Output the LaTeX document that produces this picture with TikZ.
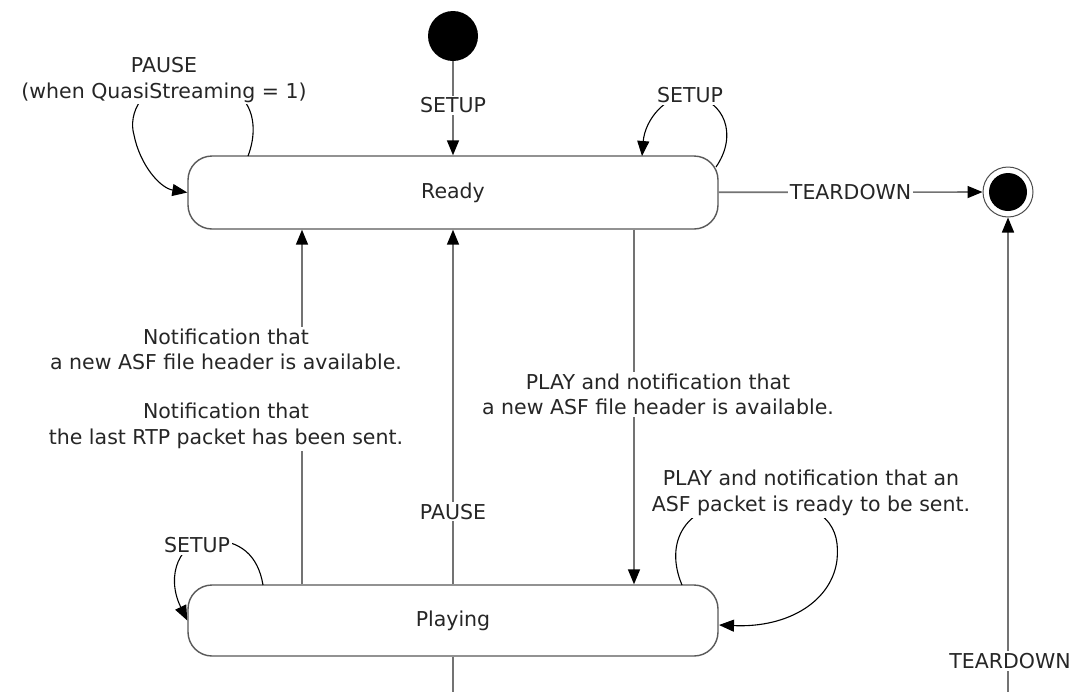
\documentclass[tikz,border=0pt]{standalone}
\usepackage{fontspec}
\setmainfont{DejaVu Sans}
\usetikzlibrary{arrows.meta}
\begin{document}
\begin{tikzpicture}[x=1pt,y=-1pt,
  tip/.tip={Triangle[length=15pt,width=12pt,color=black]},
  state/.style={draw=black!65, line width=1.4pt, rounded corners=24pt, minimum width=530pt, minimum height=73pt, fill=white, text=black!85, font=\fontsize{20.5}{25.5}\selectfont},
  conn/.style={draw=black!55, line width=1.6pt, -tip},
  plainline/.style={draw=black!55, line width=1.6pt},
  loopline/.style={draw=black, line width=1.1pt, -tip},
  lbl/.style={fill=white, text=black!85, inner sep=2pt, align=center, font=\fontsize{20.5}{25.5}\selectfont},
]
\useasboundingbox (0,0) rectangle (1076,691);
\fill[white] (0,0) rectangle (1076,691);

% states
\node[state] (ready) at (453,192.5) {Ready};
\node[state, minimum height=71pt] (playing) at (453,620.5) {Playing};
\node[circle, fill=black, minimum size=50pt, inner sep=0pt] (init) at (453,36) {};
\node[circle, draw=black!70, line width=1pt, fill=white, minimum size=50pt, inner sep=0pt] (final) at (1008,192) {};
\fill[black] (final.center) circle (19pt);

% helper coordinates
\coordinate (xa) at (302,0);
\coordinate (xb) at (634,0);
\coordinate (bot) at (453,720);

% straight transitions
\draw[conn] (init) -- node[lbl, pos=0.47] {SETUP} (ready);
\draw[conn] (ready) -- node[lbl] {TEARDOWN} (final);

\node[lbl] (n1) at (226,349.5) {Notification that\\a new ASF file header is available.};
\node[lbl] (n2) at (226,426) {Notification that\\the last RTP packet has been sent.};
\draw[plainline] (playing.north -| xa) -- (n2.south -| xa);
\draw[conn] (n1.north -| xa) -- (ready.south -| xa);

\draw[conn] (playing.north) -- node[lbl, pos=0.205] {PAUSE} (ready.south);
\draw[conn] (ready.south -| xb) -- node[lbl, pos=0.465, xshift=24pt] {PLAY and notification that\\a new ASF file header is available.} (playing.north -| xb);
\draw[conn] (playing.south) -- (bot) -- (bot -| final) -- node[lbl, pos=0.117, xshift=2pt] {TEARDOWN} (final.south);

% self loops
\coordinate (r1) at (248,156);
\coordinate (r2) at (716,167);
\coordinate (r3) at (642,156);
\coordinate (p1) at (263,585);
\coordinate (p2) at (682,585);
\coordinate (p3) at (719,625);
\draw[loopline] (r1) .. controls (260,125) and (255,80) .. (190,80)
  .. controls (140,80) and (128,115) .. (134,135)
  .. controls (140,165) and (160,188) .. (ready.west);
\node[lbl] at (164,80) {PAUSE\\(when QuasiStreaming = 1)};

\draw[loopline] (r2) .. controls (738,135) and (725,100) .. (690,95)
  .. controls (665,95) and (645,120) .. (r3);
\node[lbl] at (690,95) {SETUP};

\draw[loopline] (p1) .. controls (258,555) and (240,540) .. (210,540)
  .. controls (180,540) and (165,575) .. (playing.west);
\node[lbl] at (197,545) {SETUP};

\draw[loopline] (p2) .. controls (665,545) and (680,500) .. (755,500)
  .. controls (830,500) and (840,530) .. (837,560)
  .. controls (832,600) and (790,628) .. (p3);
\node[lbl] at (811,493) {PLAY and notification that an\\ASF packet is ready to be sent.};
\end{tikzpicture}
\end{document}
